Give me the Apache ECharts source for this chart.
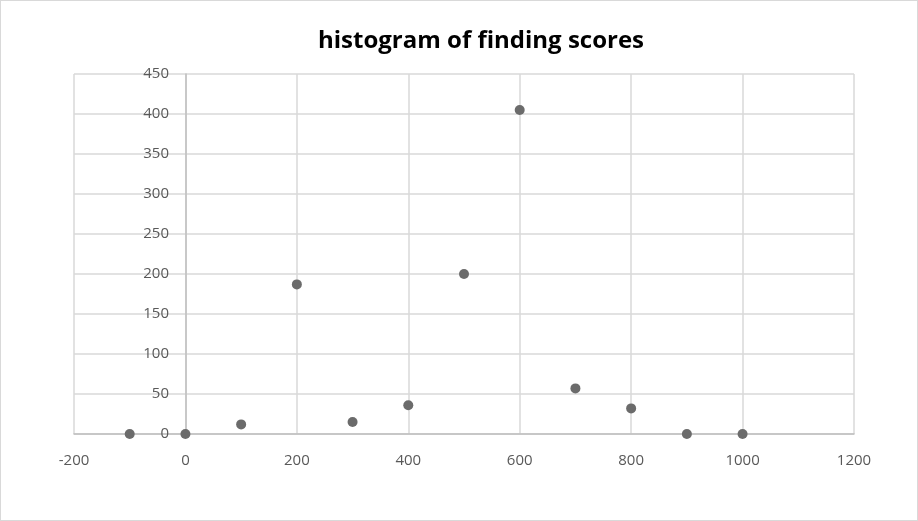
<!DOCTYPE html>
<html>
<head>
<meta charset="utf-8">
<script src="https://cdn.jsdelivr.net/npm/echarts@6/dist/echarts.min.js"></script>
<style>
html,body{margin:0;padding:0;background:#fff;}
#c{width:916px;height:519px;border:1px solid #d9d9d9;}
</style>
</head>
<body>
<div id="c"></div>
<script>
const xValues = [-100, 0, 100, 200, 300, 400, 500, 600, 700, 800, 900, 1000];
const yValues = [0, 0, 12, 187, 15, 36, 200, 405, 57, 32, 0, 0];
const titleText = 'histogram of finding scores';

const chart = echarts.init(document.getElementById('c'));
chart.setOption({
  animation: false,
  backgroundColor: '#fff',
  title: {
    text: titleText,
    left: 317,
    top: 28,
    padding: 0,
    textStyle: {fontFamily: 'Open Sans', fontWeight: 'bold', fontSize: 24, color: '#000'}
  },
  grid: {left: 73, right: 63, top: 73, bottom: 86},
  xAxis: {
    type: 'value', min: -200, max: 1200, interval: 200,
    axisLine: {onZero: true, lineStyle: {color: '#bfbfbf', width: 1.5}},
    axisTick: {show: false},
    axisLabel: {color: '#595959', fontSize: 15, fontFamily: 'Open Sans', margin: 19,
      formatter: v => String(v)},
    splitLine: {show: true, lineStyle: {color: '#d9d9d9', width: 1.5}}
  },
  yAxis: {
    type: 'value', min: 0, max: 450, interval: 50,
    axisLine: {show: true, onZero: true, lineStyle: {color: '#bfbfbf', width: 1.5}},
    axisTick: {show: false},
    axisLabel: {color: '#595959', fontSize: 15, fontFamily: 'Open Sans', margin: -95,
      formatter: v => String(v)},
    splitLine: {show: true, lineStyle: {color: '#d9d9d9', width: 1.5}}
  },
  series: [{
    type: 'scatter',
    data: xValues.map((x, i) => [x, yValues[i]]),
    symbolSize: 10,
    itemStyle: {color: '#6b6b6b', opacity: 1}
  }]
});
</script>
</body>
</html>
